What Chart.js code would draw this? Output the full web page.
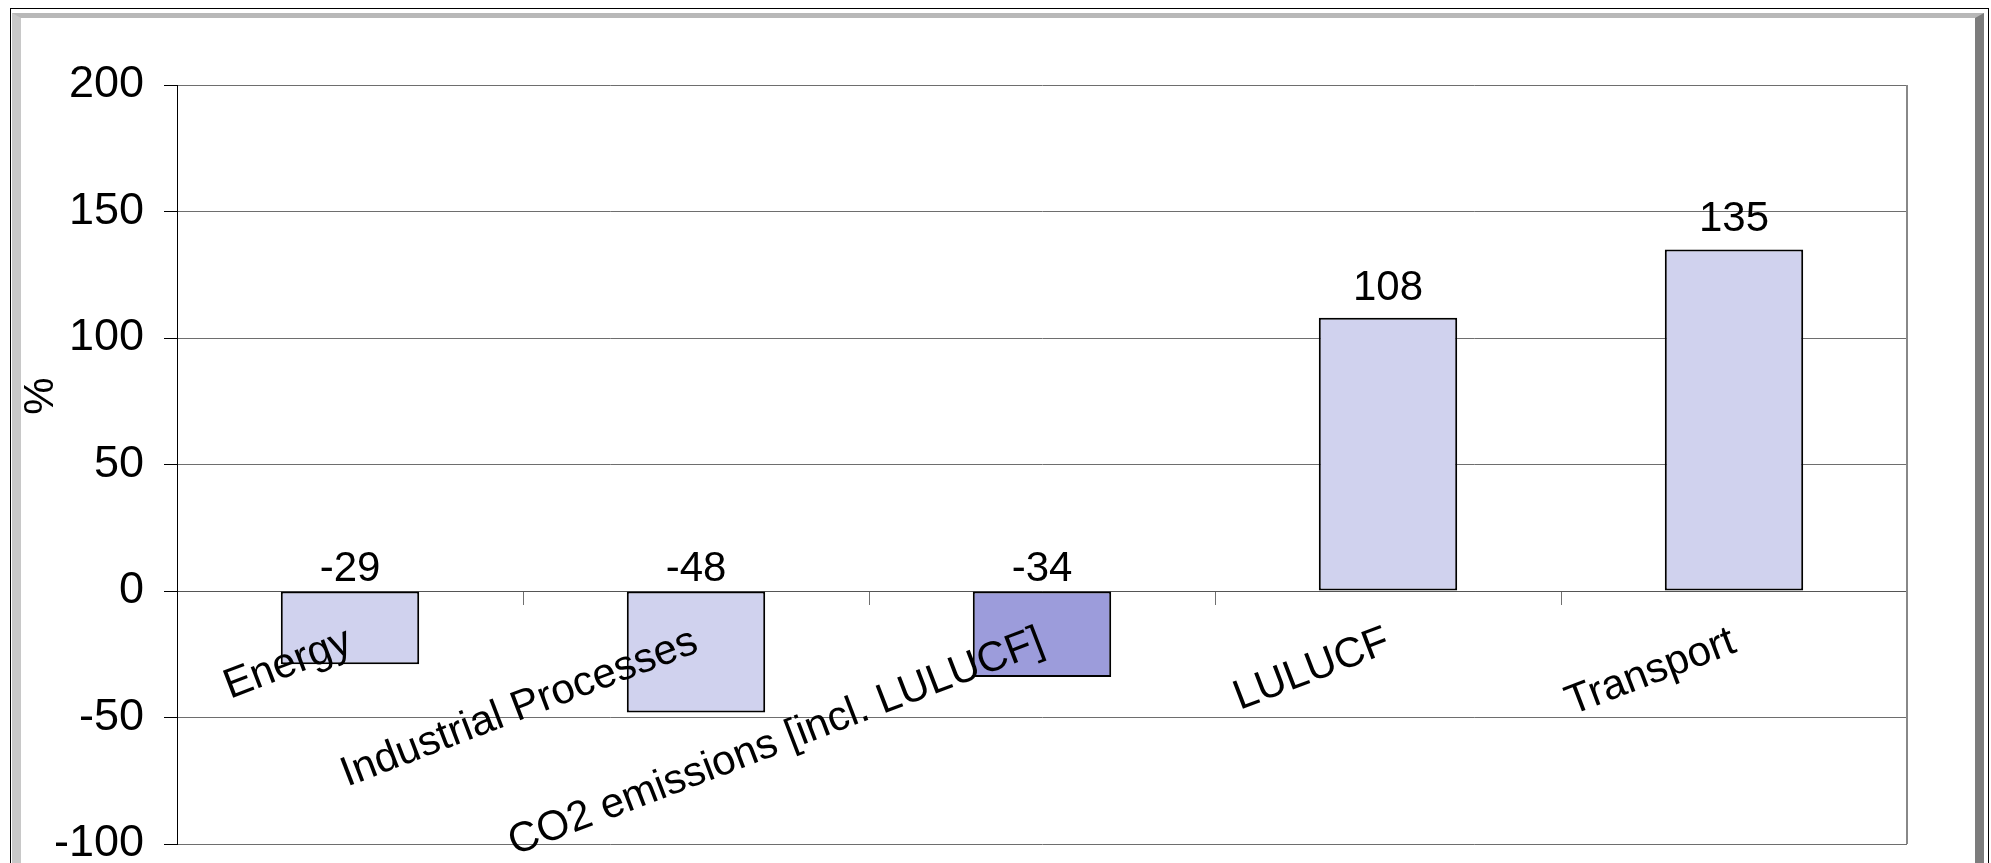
<!DOCTYPE html>
<html>
<head>
<meta charset="utf-8">
<title>Change in emissions by sector</title>
<script src="https://cdn.jsdelivr.net/npm/chart.js@4.4.1/dist/chart.umd.min.js"></script>
<style>
html,body{margin:0;padding:0;background:#fff;overflow:hidden}
#frame{position:absolute;left:10px;top:8px;width:1979px;height:900px;box-sizing:border-box;border:1px solid #000}
#bevel{position:absolute;left:12px;top:13px;width:1972px;height:900px;box-sizing:border-box;
  border-top:5px solid #b8b8b8;border-left:9px solid #c8c8c8;border-right:9px solid #7c7c7c}
#chart{position:absolute;left:0;top:0}
</style>
</head>
<body>
<div id="frame"></div>
<div id="bevel"></div>
<canvas id="chart" width="1991" height="863"></canvas>
<script>
/* DATA */
const categories=["Energy","Industrial Processes","CO2 emissions [incl. LULUCF]","LULUCF","Transport"];
const changes=[-29,-48,-34,108,135];
const yMin=-100, yMax=200, yStep=50;
const totalCategory="CO2 emissions [incl. LULUCF]";

const FONT='"Liberation Sans", Arial, sans-serif';
Chart.defaults.font.family=FONT;
Chart.defaults.color="#000";

/* value labels above each bar (negatives sit above the zero line) */
const valueLabels={
  id:"valueLabels",
  afterDatasetsDraw(chart){
    const {ctx}=chart;
    const y=chart.scales.y;
    const meta=chart.getDatasetMeta(0);
    ctx.save();
    ctx.font="42px "+FONT;
    ctx.fillStyle="#000";
    ctx.textAlign="center";
    ctx.textBaseline="alphabetic";
    meta.data.forEach((bar,i)=>{
      const v=changes[i];
      const base=y.getPixelForValue(Math.max(v,0));
      ctx.fillText(String(v),bar.x,base-(v<0?10:18));
    });
    ctx.restore();
  }
};

/* y title "%" sits a bit above the middle, like the original */
const yTitle={
  id:"yTitle",
  afterDraw(chart){
    const {ctx,chartArea}=chart;
    ctx.save();
    ctx.translate(chartArea.left-136,chartArea.top+(chartArea.bottom-chartArea.top)*0.41);
    ctx.rotate(-Math.PI/2);
    ctx.font="42px "+FONT;
    ctx.fillStyle="#000";
    ctx.textAlign="center";
    ctx.textBaseline="middle";
    ctx.fillText("%",0,0);
    ctx.restore();
  }
};

/* grey right edge of plot area */
const plotEdge={
  id:"plotEdge",
  beforeDatasetsDraw(chart){
    const {ctx,chartArea}=chart;
    ctx.save();
    ctx.strokeStyle="#888";
    ctx.lineWidth=2;
    ctx.beginPath();
    ctx.moveTo(chartArea.right,chartArea.top);
    ctx.lineTo(chartArea.right,chartArea.bottom);
    ctx.stroke();
    ctx.restore();
  }
};

new Chart(document.getElementById("chart"),{
  type:"bar",
  data:{
    labels:categories,
    datasets:[{
      data:changes,
      backgroundColor:categories.map(c=>c===totalCategory?"#9c9cdb":"#d0d2ee"),
      borderColor:"#000",
      borderWidth:2,
      borderSkipped:false,
      barPercentage:0.4,
      categoryPercentage:1
    }]
  },
  options:{
    responsive:false,
    animation:false,
    layout:{padding:{left:20,top:85,right:84,bottom:19}},
    plugins:{legend:{display:false},tooltip:{enabled:false},title:{display:false}},
    scales:{
      x:{
        type:"category",
        position:{y:0},
        offset:true,
        grid:{drawOnChartArea:false,drawTicks:true,tickLength:13,color:"#707070",offset:true},
        border:{display:true,color:"#555",width:1},
        ticks:{
          z:1,
          autoSkip:false,
          minRotation:21,
          maxRotation:21,
          padding:13,
          color:"#000",
          font:{size:42}
        },
        afterFit(s){s.paddingLeft=0;s.paddingRight=0;s.paddingTop=0;s.paddingBottom=0;}
      },
      y:{
        min:yMin,
        max:yMax,
        ticks:{stepSize:yStep,padding:20,color:"#000",font:{size:45}},
        grid:{color:"#6e6e6e",tickColor:"#000",tickLength:13,lineWidth:1},
        border:{display:true,color:"#000",width:1},
        afterFit(s){s.width=157;s.paddingTop=0;s.paddingBottom=0;}
      }
    }
  },
  plugins:[plotEdge,valueLabels,yTitle]
});
</script>
</body>
</html>
